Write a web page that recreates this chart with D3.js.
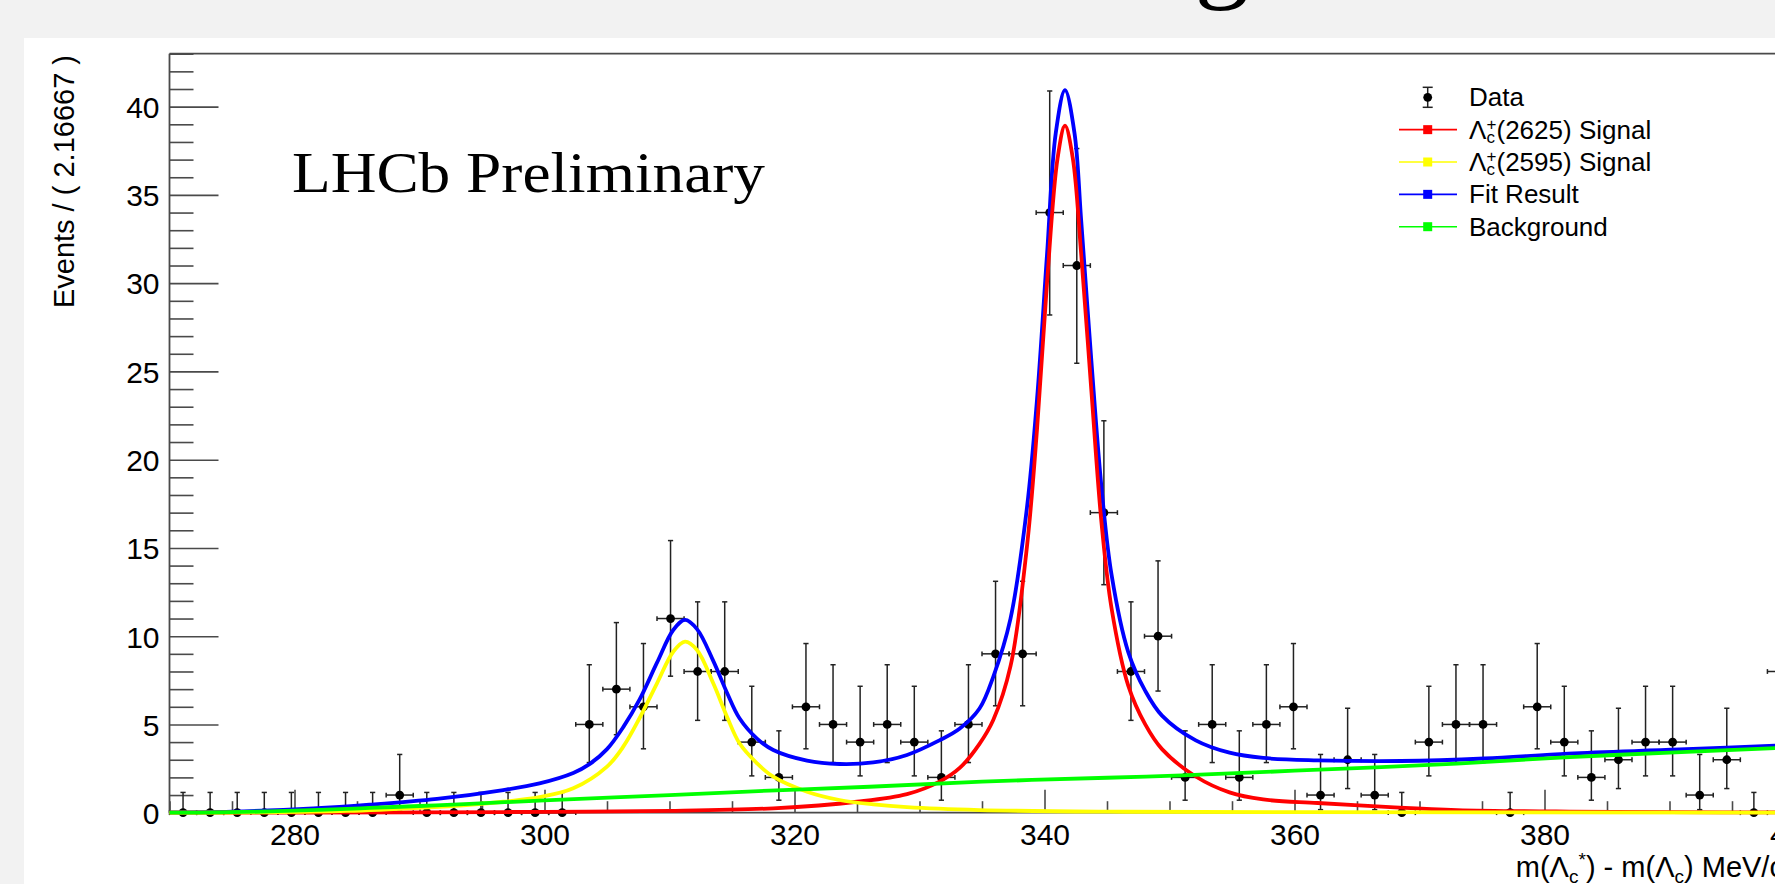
<!DOCTYPE html>
<html>
<head>
<meta charset="utf-8">
<script src="https://cdn.jsdelivr.net/npm/d3@7"></script>
<style>
  html, body { margin: 0; padding: 0; background: #f2f2f2; overflow: hidden; }
  svg { display: block; }
  text { font-family: "Liberation Sans", Arial, Helvetica, sans-serif; }
</style>
</head>
<body>
<svg id="chart" width="1775" height="884"></svg>
<script>
// ---- histogram: 60 bins of 2.16667 MeV between 270 and 400 ----
const xMin = 270, xMax = 400, nBins = 60;
const counts = [
  0, 0, 0, 0, 0, 0, 0, 0, 1, 0,
  0, 0, 0, 0, 0, 5, 7, 6, 11, 8,
  8, 4, 2, 6, 5, 4, 5, 4, 2, 5,
  9, 9, 34, 31, 17, 8, 10, 2, 5, 2,
  5, 6, 1, 3, 1, 0, 4, 5, 5, 0,
  6, 4, 2, 3, 4, 4, 1, 3, 0, 8
];

// ---- fitted curves, sampled as [mass difference, events per bin] ----
const fitCurve = [
  [270, 0.02], [275, 0.06], [281.5, 0.24], [286, 0.45], [291.4, 0.78], [296.7, 1.28],
  [299.6, 1.66], [302.3, 2.25], [303.6, 2.75], [305.0, 3.6], [306.3, 4.85], [307.6, 6.4],
  [309.0, 8.5], [310.3, 10.35], [311.24, 10.92], [312.2, 10.4], [313.5, 8.6],
  [314.6, 6.8], [315.6, 5.35], [317.0, 4.2], [318.3, 3.55], [321.0, 2.95],
  [323.6, 2.76], [326.3, 2.85], [329.0, 3.27], [331.6, 4.1], [333.2, 4.75],
  [334.8, 5.9], [335.9, 7.7], [337.28, 11.0], [338.6, 17.3], [339.4, 23.4],
  [340.2, 31.6], [340.9, 38.5], [341.64, 40.94], [342.4, 38.5], [342.94, 33.5],
  [343.75, 25.6], [344.55, 18.5], [345.36, 13.5], [346.7, 9.1], [348.06, 6.9],
  [349.4, 5.5], [352.1, 4.1], [354.8, 3.4], [357.5, 3.1], [361.85, 2.97],
  [368.5, 2.93], [375.2, 3.07], [381.9, 3.35], [390.8, 3.58], [400, 3.85]
];
const sig2625Curve = [
  [270, 0.0], [290, 0.02], [300, 0.05], [310, 0.1], [318.3, 0.25], [325.0, 0.62],
  [329.0, 1.05], [331.6, 1.76], [333.24, 2.55], [334.8, 3.9], [335.9, 5.25],
  [337.28, 8.3], [338.6, 15.1], [339.4, 21.7], [340.2, 30.0], [341.05, 37.1],
  [341.64, 38.92], [342.26, 37.1], [342.94, 31.6], [343.75, 23.9], [344.55, 16.5],
  [345.36, 11.6], [346.7, 7.2], [348.06, 5.0], [349.4, 3.6], [352.1, 2.05],
  [354.8, 1.15], [357.5, 0.75], [361.85, 0.55], [368, 0.3], [373, 0.15],
  [382, 0.06], [390, 0.03], [400, 0.02]
];
const sig2595Curve = [
  [270, 0.0], [278, 0.02], [284.2, 0.1], [290, 0.28], [294, 0.45], [296.7, 0.62],
  [299.6, 0.88], [302.3, 1.38], [305.0, 2.61], [306.3, 3.74], [307.6, 5.35],
  [309.0, 7.33], [310.3, 9.12], [311.24, 9.69], [312.2, 9.22], [313.5, 7.33],
  [314.6, 5.44], [315.6, 3.93], [317.0, 2.8], [318.3, 2.04], [321.0, 1.19],
  [323.6, 0.72], [326.3, 0.47], [329.0, 0.31], [334.8, 0.15], [345, 0.06],
  [360, 0.03], [400, 0.0]
];
const bkgCurve = [
  [270, 0.0], [274, 0.02], [278, 0.07], [282, 0.16], [286, 0.27], [290, 0.38],
  [294, 0.5], [300, 0.7], [310, 1.0], [318, 1.25], [326, 1.47], [335, 1.76],
  [345, 1.98], [351, 2.11], [360, 2.38], [373, 2.78], [382, 3.15], [390, 3.4],
  [400, 3.7]
];

// ---- axis ticks ----
const xMajorTicks = [280, 300, 320, 340, 360, 380, 400];
const xMinorTicks = d3.range(270, 401, 5).filter(v => !xMajorTicks.includes(v));
const yMajorTicks = [0, 5, 10, 15, 20, 25, 30, 35, 40];
const yMinorTicks = d3.range(0, 44).filter(v => !yMajorTicks.includes(v));

// ---- legend entries ----
const legendEntries = [
  { kind: "data", label: [{ t: "Data" }] },
  { kind: "line", color: "#ff0000",
    label: [{ t: "Λ" }, { t: "+", sup: true }, { t: "c", under: true }, { t: "(2625) Signal", after: true }] },
  { kind: "line", color: "#ffff00",
    label: [{ t: "Λ" }, { t: "+", sup: true }, { t: "c", under: true }, { t: "(2595) Signal", after: true }] },
  { kind: "line", color: "#0000ff", label: [{ t: "Fit Result" }] },
  { kind: "line", color: "#00ff00", label: [{ t: "Background" }] }
];

// ---- layout ----
const W = 1775, H = 884;
const plot = { left: 169.5, right: 1794.5, top: 53.7, bottom: 812.7 };

const svg = d3.select("#chart");
svg.append("rect").attr("width", W).attr("height", H).attr("fill", "#f2f2f2");

// slide title (only its lowest stroke falls inside the view)
svg.append("text")
  .attr("x", 1222).attr("y", -12)
  .attr("text-anchor", "middle")
  .style("font-family", "'Liberation Serif', 'Times New Roman', serif")
  .style("font-size", "110px")
  .attr("fill", "#000")
  .text("g");

// white canvas of the plot
svg.append("rect").attr("x", 24).attr("y", 38).attr("width", W - 24).attr("height", H - 38).attr("fill", "#ffffff");

const x = d3.scaleLinear().domain([xMin, xMax]).range([plot.left, plot.right]);
const y = d3.scaleLinear().domain([0, 43]).range([plot.bottom, plot.top]);
const binWidth = (xMax - xMin) / nBins;

// ---- Poisson 68.3% intervals, as used for the data error bars ----
const alpha = 1 - 0.682689;
function poissonCdf(n, mu) {
  let term = Math.exp(-mu), s = term;
  for (let k = 1; k <= n; k++) { term *= mu / k; s += term; }
  return s;
}
function solveDecreasing(f, target, lo, hi) {
  for (let i = 0; i < 80; i++) {
    const m = (lo + hi) / 2;
    if (f(m) > target) lo = m; else hi = m;
  }
  return (lo + hi) / 2;
}
function poissonInterval(n) {
  if (n === 0) return [0, solveDecreasing(m => poissonCdf(0, m), alpha, 0, 20)];
  const hi = solveDecreasing(m => poissonCdf(n, m), alpha / 2, 0, n + 60);
  const lo = solveDecreasing(m => poissonCdf(n - 1, m), 1 - alpha / 2, 0, n + 60);
  return [lo, hi];
}

const points = counts.map((c, i) => {
  const [lo, hi] = poissonInterval(c);
  return { x0: xMin + i * binWidth, x1: xMin + (i + 1) * binWidth, xc: xMin + (i + 0.5) * binWidth, n: c, lo, hi };
});

// ---- axes ----
const axisColor = "#4a4a4a";
const tickStroke = 1.6;

function styleAxis(g) {
  g.select(".domain").remove();
  g.selectAll(".tick line").attr("stroke", axisColor).attr("stroke-width", tickStroke);
}

// y axis
svg.append("g").attr("transform", `translate(${plot.left},0)`)
  .call(d3.axisLeft(y).tickValues(yMinorTicks).tickSize(-24).tickFormat(""))
  .call(styleAxis);
svg.append("g").attr("transform", `translate(${plot.left},0)`)
  .call(d3.axisLeft(y).tickValues(yMajorTicks).tickSize(-49).tickPadding(10).tickFormat(d3.format("d")))
  .call(styleAxis)
  .call(g => g.selectAll(".tick text")
    .attr("fill", "#000").attr("dy", "0.36em")
    .style("font-size", "30px").style("font-family", "'Liberation Sans', Arial, sans-serif"));

// x axis
svg.append("g").attr("transform", `translate(0,${plot.bottom})`)
  .call(d3.axisBottom(x).tickValues(xMinorTicks).tickSize(-11.5).tickFormat(""))
  .call(styleAxis);
svg.append("g").attr("transform", `translate(0,${plot.bottom})`)
  .call(d3.axisBottom(x).tickValues(xMajorTicks).tickSize(-23).tickPadding(11).tickFormat(d3.format("d")))
  .call(styleAxis)
  .call(g => g.selectAll(".tick text")
    .attr("fill", "#000")
    .style("font-size", "30px").style("font-family", "'Liberation Sans', Arial, sans-serif"));

// frame lines
const frame = svg.append("g").attr("fill", "none").attr("stroke", axisColor).attr("stroke-width", 1.8);
frame.append("line").attr("x1", plot.left).attr("x2", plot.left).attr("y1", plot.top).attr("y2", plot.bottom);
frame.append("line").attr("x1", plot.left).attr("x2", plot.right).attr("y1", plot.bottom).attr("y2", plot.bottom);
frame.append("line").attr("x1", plot.left).attr("x2", plot.right).attr("y1", plot.top).attr("y2", plot.top);
frame.append("line").attr("x1", plot.right).attr("x2", plot.right).attr("y1", plot.top).attr("y2", plot.bottom);

// axis titles
svg.append("text")
  .attr("transform", `translate(74,55) rotate(-90)`)
  .attr("text-anchor", "end")
  .style("font-size", "29px")
  .attr("fill", "#000")
  .text("Events / ( 2.16667 )");

const xTitle = svg.append("text")
  .attr("x", plot.right).attr("y", 877)
  .attr("text-anchor", "end")
  .style("font-size", "29px")
  .attr("fill", "#000");
xTitle.append("tspan").text("m(Λ");
xTitle.append("tspan").attr("dy", 6).style("font-size", "19px").text("c");
xTitle.append("tspan").attr("dy", -17).style("font-size", "19px").text("*");
xTitle.append("tspan").attr("dy", 11).text(") - m(Λ");
xTitle.append("tspan").attr("dy", 6).style("font-size", "19px").text("c");
xTitle.append("tspan").attr("dy", -6).text(") MeV/c");
xTitle.append("tspan").attr("dy", -11).style("font-size", "19px").text("2");

// ---- data points ----
const dataG = svg.append("g").attr("stroke", "#222").attr("stroke-width", 1.5);
const capW = 2.6, endH = 2.4;
points.forEach(p => {
  const cx = x(p.xc), cy = y(p.n);
  // horizontal bar spanning the bin
  dataG.append("line").attr("x1", x(p.x0)).attr("x2", x(p.x1)).attr("y1", cy).attr("y2", cy);
  dataG.append("line").attr("x1", x(p.x0)).attr("x2", x(p.x0)).attr("y1", cy - endH).attr("y2", cy + endH);
  dataG.append("line").attr("x1", x(p.x1)).attr("x2", x(p.x1)).attr("y1", cy - endH).attr("y2", cy + endH);
  // vertical Poisson error bar
  dataG.append("line").attr("x1", cx).attr("x2", cx).attr("y1", y(p.lo)).attr("y2", y(p.hi));
  dataG.append("line").attr("x1", cx - capW).attr("x2", cx + capW).attr("y1", y(p.hi)).attr("y2", y(p.hi));
  if (p.n > 0) dataG.append("line").attr("x1", cx - capW).attr("x2", cx + capW).attr("y1", y(p.lo)).attr("y2", y(p.lo));
});
svg.append("g").selectAll("circle").data(points).join("circle")
  .attr("cx", d => x(d.xc)).attr("cy", d => y(d.n)).attr("r", 4.4).attr("fill", "#000");

// ---- fit curves ----
const line = d3.line().x(d => x(d[0])).y(d => y(d[1])).curve(d3.curveCatmullRom.alpha(0.5));
const curves = [
  { data: fitCurve, color: "#0000ff" },
  { data: sig2625Curve, color: "#ff0000" },
  { data: sig2595Curve, color: "#ffff00" },
  { data: bkgCurve, color: "#00ff00" }
];
svg.append("g").selectAll("path").data(curves).join("path")
  .attr("d", d => line(d.data))
  .attr("fill", "none")
  .attr("stroke", d => d.color)
  .attr("stroke-width", 3.8)
  .attr("stroke-linejoin", "round");

// ---- label ----
svg.append("text")
  .attr("x", 292).attr("y", 192)
  .attr("textLength", 473).attr("lengthAdjust", "spacingAndGlyphs")
  .style("font-family", "'Liberation Serif', 'Times New Roman', serif")
  .style("font-size", "56px")
  .attr("fill", "#000")
  .text("LHCb Preliminary");

// ---- legend ----
const legG = svg.append("g");
const legRowY = d3.scalePoint().domain(d3.range(legendEntries.length)).range([97.3, 226.7]);
const symX = 1427.7, lineX0 = 1399, lineX1 = 1457, textX = 1469;
legendEntries.forEach((e, i) => {
  const cy = legRowY(i);
  if (e.kind === "data") {
    legG.append("line").attr("x1", symX).attr("x2", symX).attr("y1", cy - 10).attr("y2", cy + 10)
      .attr("stroke", "#222").attr("stroke-width", 1.5);
    [cy - 10, cy + 10].forEach(yy => legG.append("line").attr("x1", symX - 5).attr("x2", symX + 5)
      .attr("y1", yy).attr("y2", yy).attr("stroke", "#222").attr("stroke-width", 1.5));
    legG.append("circle").attr("cx", symX).attr("cy", cy).attr("r", 4.4).attr("fill", "#000");
  } else {
    legG.append("line").attr("x1", lineX0).attr("x2", lineX1).attr("y1", cy).attr("y2", cy)
      .attr("stroke", e.color).attr("stroke-width", 1.6);
    legG.append("rect").attr("x", symX - 4.5).attr("y", cy - 4.5).attr("width", 9).attr("height", 9)
      .attr("fill", e.color);
  }
  const t = legG.append("text").attr("x", textX).attr("y", cy + 9)
    .style("font-size", "26px").attr("fill", "#000");
  e.label.forEach(part => {
    const ts = t.append("tspan").text(part.t);
    if (part.sup) ts.attr("dy", -8.7).style("font-size", "17px");
    if (part.under) ts.attr("dx", -9.9).attr("dy", 13.1).style("font-size", "17px");
    if (part.after) ts.attr("dx", 1.6).attr("dy", -4.4);
  });
});
</script>
</body>
</html>
